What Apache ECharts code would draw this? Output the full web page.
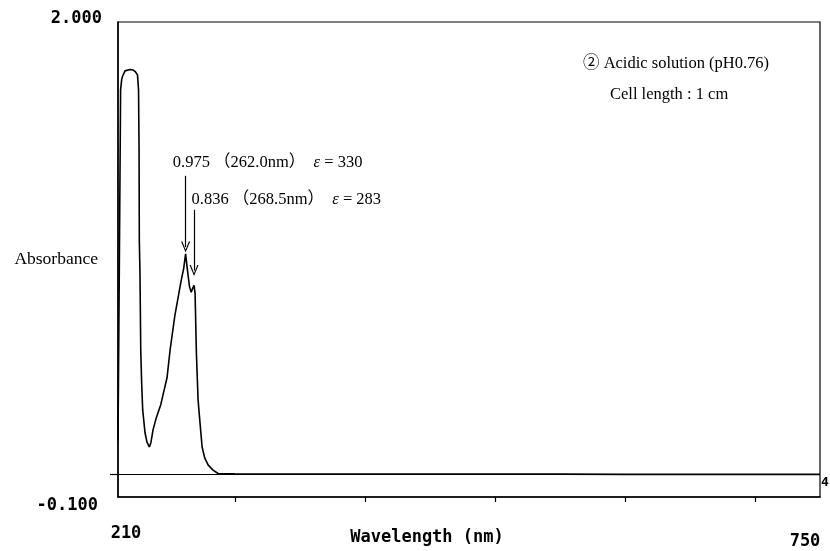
<!DOCTYPE html>
<html>
<head>
<meta charset="utf-8">
<script src="https://cdn.jsdelivr.net/npm/echarts@6/dist/echarts.min.js"></script>
<style>
  html, body { margin: 0; padding: 0; background: #fff; }
  #chart { width: 830px; height: 551px; }
</style>
</head>
<body>
<div id="chart"></div>
<script>
// UV absorption spectrum, acidic solution (pH 0.76), 1 cm cell
var wavelength = [210.0, 211.0, 212.0, 212.8, 213.5, 215.4, 216.9, 219.2, 221.5, 223.5, 225.0, 225.8, 226.2, 226.4, 226.9, 227.5, 228.2, 229.0, 230.8, 232.3, 234.1, 235.3, 237.0, 239.6, 242.9, 244.0, 247.7, 250.1, 253.7, 258.4, 260.5, 262.0, 263.5, 265.0, 266.3, 267.3, 268.5, 269.3, 270.3, 271.6, 272.9, 274.7, 276.7, 279.3, 283.1, 287.0, 300, 350, 400, 450, 500, 550, 600, 650, 700, 750];
var absorbance = [0.15, 0.90, 1.700, 1.744, 1.760, 1.784, 1.792, 1.790, 1.788, 1.779, 1.766, 1.700, 1.434, 1.036, 0.890, 0.550, 0.404, 0.285, 0.183, 0.143, 0.121, 0.140, 0.198, 0.253, 0.308, 0.336, 0.427, 0.551, 0.701, 0.851, 0.910, 0.975, 0.900, 0.830, 0.805, 0.820, 0.836, 0.800, 0.537, 0.329, 0.240, 0.121, 0.073, 0.042, 0.019, 0.004, 0.003, 0.002, 0.002, 0.001, 0.001, 0.001, 0.0, 0.0, 0.0, 0.0];

// labelled peaks: [wavelength nm, absorbance, epsilon]
var peak1 = [262.0, 0.975, 330];
var peak2 = [268.5, 0.836, 283];

var xRange = [210, 750];
var yRange = [-0.1, 2.0];
var xTicks = [300, 400, 500, 600, 700];
var xTickLabels = [210, 750];
var yTickLabels = [-0.1, 2.0];

var monoFont = '"DejaVu Sans Mono", monospace';
var serifFont = '"Liberation Serif", "Noto Sans CJK JP", serif';

var points = wavelength.map(function (w, i) { return [w, absorbance[i]]; });

// chevron arrow head (tip at top, rotated along the line by ECharts)
var chevron = 'path://M0,10 L5,0 L10,10 L8.6,10 L5,2.6 L1.4,10 Z';

function peakLabel(p) {
  return p[1].toFixed(3) + ' \uff08' + p[0].toFixed(1) + 'nm\uff09  {e|\u03b5} = ' + p[2];
}

var chart = echarts.init(document.getElementById('chart'), null, { renderer: 'canvas' });

chart.setOption({
  animation: false,
  backgroundColor: '#ffffff',
  grid: {
    left: 118, right: 10, top: 22, bottom: 54,
    containLabel: false,
    outerBoundsMode: 'none',
    show: true, borderColor: '#000', borderWidth: 1.2
  },
  xAxis: {
    type: 'value',
    min: xRange[0], max: xRange[1],
    splitLine: { show: false },
    axisLine: { show: true, onZero: false, lineStyle: { color: '#000', width: 1.5 } },
    axisTick: { show: true, customValues: xTicks, length: 5, lineStyle: { color: '#000', width: 1.2 } },
    axisLabel: {
      customValues: xTickLabels,
      margin: 28,
      formatter: function (v) { return v === xRange[0] ? '{l|' + v + '}' : '{r|' + v + '}'; },
      rich: {
        l: { fontFamily: monoFont, fontWeight: 'bold', fontSize: 17, color: '#000', padding: [0, 0, 0, 16] },
        r: { fontFamily: monoFont, fontWeight: 'bold', fontSize: 17, color: '#000', padding: [8, 30, 0, 0] }
      }
    },
    name: 'Wavelength (nm)',
    nameLocation: 'middle',
    nameGap: 32,
    nameMoveOverlap: false,
    nameTextStyle: { fontFamily: monoFont, fontWeight: 'bold', fontSize: 17, color: '#000', padding: [0, 84, 0, 0] }
  },
  yAxis: {
    type: 'value',
    min: yRange[0], max: yRange[1],
    splitLine: { show: false },
    axisLine: { show: true, onZero: false, lineStyle: { color: '#000', width: 1.5 } },
    axisTick: { show: true, customValues: [0], length: 8, lineStyle: { color: '#000', width: 1.2 } },
    axisLabel: {
      customValues: yTickLabels,
      margin: 16,
      formatter: function (v) { return v < 0 ? '{b|' + v.toFixed(3) + '}' : '{t|' + v.toFixed(3) + '}'; },
      rich: {
        t: { fontFamily: monoFont, fontWeight: 'bold', fontSize: 17, color: '#000', padding: [0, 0, 6, 0] },
        b: { fontFamily: monoFont, fontWeight: 'bold', fontSize: 17, color: '#000', padding: [18, 4, 0, 0] }
      }
    },
    name: 'Absorbance',
    nameLocation: 'middle',
    nameRotate: 0,
    nameGap: 20,
    nameMoveOverlap: false,
    nameTextStyle: { fontFamily: serifFont, fontSize: 17.5, color: '#000', align: 'right', padding: [0, 0, 8, 0] }
  },
  series: [{
    type: 'line',
    data: points,
    showSymbol: false,
    symbol: 'none',
    smooth: false,
    lineStyle: { color: '#000', width: 1.6 },
    markLine: {
      silent: true,
      symbol: ['none', 'none'],
      label: { show: false },
      lineStyle: { color: '#000', width: 1.2, type: 'solid' },
      data: [
        [{ coord: [xRange[0], 0] }, { coord: [xRange[1], 0] }],
        [{ coord: [peak1[0], 1.32], symbol: 'none' },
         { coord: [peak1[0], peak1[1] + 0.03], symbol: chevron, symbolSize: [9, 11] }],
        [{ coord: [peak2[0], 1.17], symbol: 'none' },
         { coord: [peak2[0], peak2[1] + 0.065], symbol: chevron, symbolSize: [9, 11] }]
      ]
    },
    markPoint: {
      silent: true,
      symbol: 'circle',
      symbolSize: 0,
      label: {
        show: true,
        position: 'inside',
        align: 'left',
        verticalAlign: 'middle',
        color: '#000',
        fontFamily: serifFont,
        fontSize: 16.5,
        rich: { e: { fontFamily: serifFont, fontStyle: 'italic', fontSize: 16.5, color: '#000' } }
      },
      data: [
        { coord: [252.2, 1.377], value: 0, label: { formatter: peakLabel(peak1) } },
        { coord: [266.6, 1.213], value: 0, label: { formatter: peakLabel(peak2) } }
      ]
    }
  }],
  graphic: [
    { type: 'text', left: 583, top: 55, style: { text: '\u2461 Acidic solution (pH0.76)', fontFamily: serifFont, fontSize: 16.5, fill: '#000' } },
    { type: 'text', left: 610, top: 86, style: { text: 'Cell length : 1 cm', fontFamily: serifFont, fontSize: 16.5, fill: '#000' } },
    { type: 'text', left: 821, top: 476, style: { text: '4', fontFamily: monoFont, fontWeight: 'bold', fontSize: 13, fill: '#000' } }
  ]
});
</script>
</body>
</html>
